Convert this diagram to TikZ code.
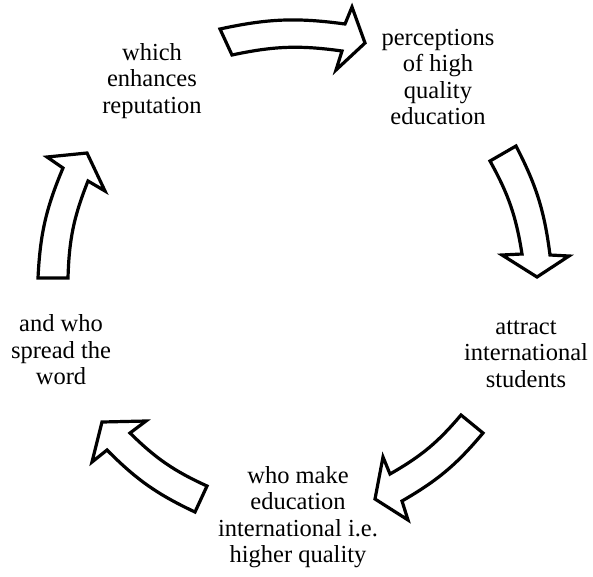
\documentclass[tikz,border=0pt]{standalone}
\usepackage{fontspec}
\setmainfont{Liberation Serif}
\tikzset{
  cyclearrow/.style={draw=black, fill=white, line width=3.2pt, line join=miter, miter limit=10},
  cyclelabel/.style={align=center, inner sep=0pt, font=\fontsize{24.5}{26.5}\selectfont}
}
\begin{document}
\begin{tikzpicture}[x=1pt,y=1pt]
			%%%%% START %%%%%
			\useasboundingbox (0,0) rectangle (593,-576);
			
			% labels round the cycle
			\node[cyclelabel] (reputation) at (152,-81) {which\\enhances\\reputation};
			\node[cyclelabel] (perceptions) at (438,-77) {perceptions\\of high\\quality\\education};
			\node[cyclelabel] (attract) at (526,-354) {attract\\international\\students};
			\node[cyclelabel] (whomake) at (298,-517) {who make\\education\\international i.e.\\higher quality};
			\node[cyclelabel] (spread) at (61,-350) {and who\\spread the\\word};
			
			% block arrows
			\draw[cyclearrow] (220,-29) to[bend left=10] (345,-24) -- (352,-7) -- (365,-43) -- (336,-70) -- (342,-51) to[bend right=10] (232,-55) -- cycle;
			\draw[cyclearrow] (516,-146) to[bend left=10] (550,-255) -- (569,-256) -- (537,-277) -- (502,-255) -- (522,-254) to[bend right=10] (490,-161) -- cycle;
			\draw[cyclearrow] (483,-433) to[bend left=10] (402,-501) -- (408,-520) -- (375,-499) -- (383,-457) -- (390,-474) to[bend right=10] (461,-415) -- cycle;
			\draw[cyclearrow] (195,-512) to[bend left=10] (107,-450) -- (92,-462) -- (102,-422) -- (146,-421) -- (130,-433) to[bend right=10] (207,-486) -- cycle;
			\draw[cyclearrow] (38,-278) to[bend left=10] (63,-168) -- (47,-157) -- (87,-153) -- (105,-191) -- (88,-181) to[bend right=10] (68,-278) -- cycle;
			
			%%%%% END %%%%%
\end{tikzpicture}
\end{document}
